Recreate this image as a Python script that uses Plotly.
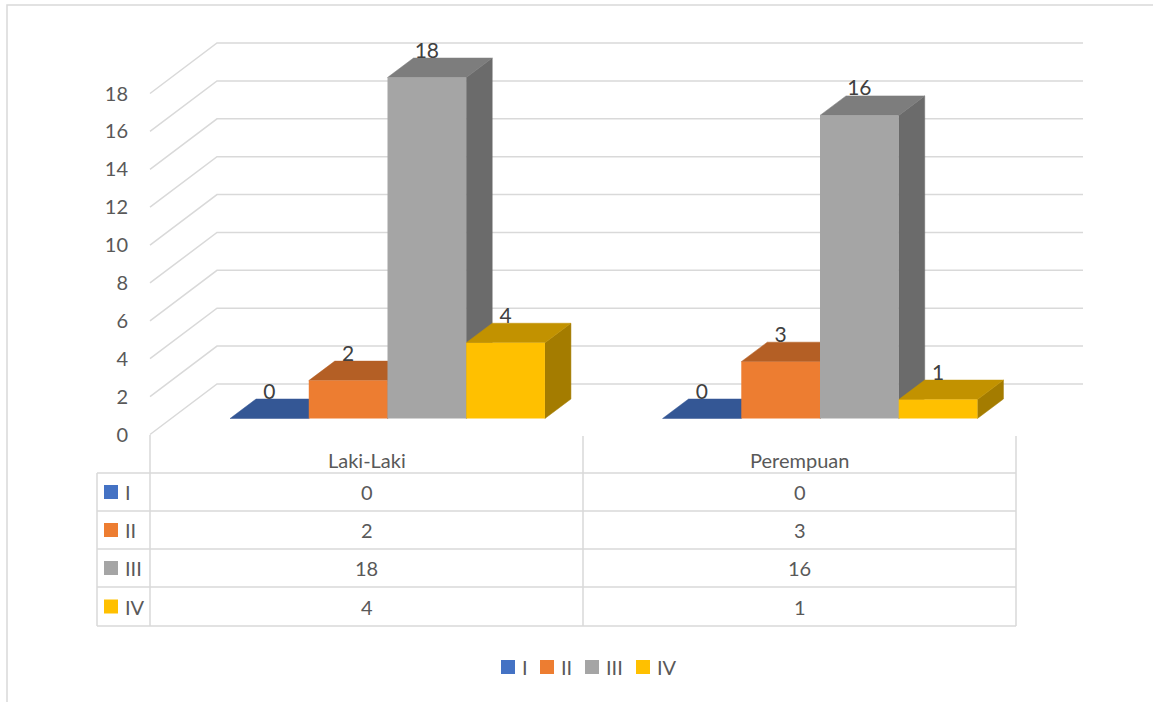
import plotly.graph_objects as go

# ---------------- data ----------------
categories = ["Laki-Laki", "Perempuan"]
series_names = ["I", "II", "III", "IV"]
values_I = [0, 0]
values_II = [2, 3]
values_III = [18, 16]
values_IV = [4, 1]
y_ticks = [0, 2, 4, 6, 8, 10, 12, 14, 16, 18]

series_values = [values_I, values_II, values_III, values_IV]
front_colors = ["#4472C4", "#ED7D31", "#A5A5A5", "#FFC000"]
top_colors = ["#345795", "#B45F25", "#7D7D7D", "#C29200"]
side_colors = ["#2C4A7E", "#995120", "#6B6B6B", "#A47C00"]

# ---------------- geometry (style) ----------------
W, H = 1153, 702
PXU = 18.944          # pixels per value unit
Y0 = 418.5            # pixel row of value 0 on the bars' plane
X0, XS = 387.5, 432.5 # pixel of category 0, pixels per category
FY0 = 434.5           # pixel row of value 0 on the front (axis) plane
BY0 = 384.0           # pixel row of value 0 on the back wall
FX, BX, RX = 150, 217, 1083
BARGAP = 0.272
BW = (1 - BARGAP) / len(series_names)
DX = 26 / XS
DY = 19.5 / PXU

def dx(p):
    return (p - X0) / XS

FRONT_OFF = (Y0 - FY0) / PXU
BACK_OFF = (Y0 - BY0) / PXU

def px(x):
    return x / W

def py(y):
    return 1 - y / H

FONT = "Lato"
TXT = "#595959"
GRID = "#D9D9D9"

fig = go.Figure()

shapes = []
# back wall + side wall grid lines
for v in y_ticks:
    shapes.append(dict(
        type="path", xref="x", yref="y", layer="below",
        path=f"M {dx(FX)},{v + FRONT_OFF} L {dx(BX)},{v + BACK_OFF} L {dx(RX)},{v + BACK_OFF}",
        line=dict(color=GRID, width=1.5)))

# 3D tops and sides of the bars
xcats = list(range(len(categories)))
for i in xcats:
    for k, vals in enumerate(series_values):
        v = vals[i]
        xl = i + (k - len(series_names) / 2) * BW
        xr = xl + BW
        if v > 0:
            shapes.append(dict(
                type="path", xref="x", yref="y", layer="below",
                path=f"M {xr},0 L {xr},{v} L {xr + DX},{v + DY} L {xr + DX},{DY} Z",
                fillcolor=side_colors[k], line=dict(color=side_colors[k], width=0.5)))
        shapes.append(dict(
            type="path", xref="x", yref="y", layer="below",
            path=f"M {xl},{v} L {xr},{v} L {xr + DX},{v + DY} L {xl + DX},{v + DY} Z",
            fillcolor=top_colors[k], line=dict(color=top_colors[k], width=0.5)))

# front faces
for k, (name, vals) in enumerate(zip(series_names, series_values)):
    fig.add_trace(go.Bar(
        x=xcats, y=vals, name=name,
        marker=dict(color=front_colors[k], line=dict(width=0)),
        showlegend=False, hoverinfo="name+y"))

# data labels
for k, vals in enumerate(series_values):
    fig.add_trace(go.Scatter(
        x=[i + (k - (len(series_names) - 1) / 2) * BW for i in xcats],
        y=[v + DY + 0.3 for v in vals],
        text=[str(v) for v in vals], mode="text",
        textposition="middle center",
        textfont=dict(family=FONT, size=21, color="#404040"),
        showlegend=False, hoverinfo="skip", cliponaxis=False))

# empty trace so that the front-plane value axis (yaxis2) is drawn
fig.add_trace(go.Scatter(x=[], y=[], yaxis="y2", showlegend=False, hoverinfo="skip"))

# ---------------- data table ----------------
col_left = [150, 583]
col_w = 433
row_tops = [473, 511, 549, 587, 626]
tl = dict(color=GRID, width=1.5)
for yy in row_tops:
    shapes.append(dict(type="line", xref="paper", yref="paper",
                       x0=px(97), x1=px(1016), y0=py(yy), y1=py(yy), line=tl))
shapes.append(dict(type="line", xref="paper", yref="paper",
                   x0=px(97), x1=px(97), y0=py(473), y1=py(626), line=tl))
shapes.append(dict(type="line", xref="paper", yref="paper",
                   x0=px(150), x1=px(150), y0=py(435), y1=py(626), line=tl))
for xx in [583, 1016]:
    shapes.append(dict(type="line", xref="paper", yref="paper",
                       x0=px(xx), x1=px(xx), y0=py(436), y1=py(626), line=tl))

annotations = []
for c, cat in enumerate(categories):
    annotations.append(dict(text=cat, x=px(col_left[c] + col_w / 2), y=py(460),
                            xref="paper", yref="paper", showarrow=False,
                            xanchor="center", yanchor="middle",
                            font=dict(family=FONT, size=20, color=TXT)))
for k, (name, vals) in enumerate(zip(series_names, series_values)):
    yc = (row_tops[k] + row_tops[k + 1]) / 2
    shapes.append(dict(type="rect", xref="paper", yref="paper",
                       x0=px(104), x1=px(118), y0=py(yc - 7), y1=py(yc + 7),
                       fillcolor=front_colors[k], line=dict(width=0)))
    annotations.append(dict(text=name, x=px(123), y=py(yc), xref="paper", yref="paper",
                            showarrow=False, xanchor="left", yanchor="middle",
                            font=dict(family=FONT, size=20, color=TXT)))
    for c in range(len(categories)):
        annotations.append(dict(text=str(vals[c]), x=px(col_left[c] + col_w / 2), y=py(yc),
                                xref="paper", yref="paper", showarrow=False,
                                xanchor="center", yanchor="middle",
                                font=dict(family=FONT, size=20, color=TXT)))

# ---------------- legend (bottom) ----------------
leg_x = [501, 540, 585, 636]
leg_y = 667
for k, name in enumerate(series_names):
    shapes.append(dict(type="rect", xref="paper", yref="paper",
                       x0=px(leg_x[k]), x1=px(leg_x[k] + 14), y0=py(leg_y - 7), y1=py(leg_y + 7),
                       fillcolor=front_colors[k], line=dict(width=0)))
    annotations.append(dict(text=name, x=px(leg_x[k] + 19), y=py(leg_y), xref="paper", yref="paper",
                            showarrow=False, xanchor="left", yanchor="middle",
                            font=dict(family=FONT, size=20, color=TXT)))

# chart border
shapes.append(dict(type="rect", xref="paper", yref="paper",
                   x0=px(7), x1=px(1170), y0=py(5), y1=py(720),
                   line=dict(color=GRID, width=1.5)))

fig.update_layout(
    width=W, height=H,
    margin=dict(l=0, r=0, t=0, b=0),
    paper_bgcolor="white", plot_bgcolor="white",
    barmode="group", bargap=BARGAP, bargroupgap=0,
    showlegend=False,
    shapes=shapes, annotations=annotations,
    xaxis=dict(range=[-X0 / XS, (W - X0) / XS], visible=False, fixedrange=True),
    yaxis=dict(range=[(Y0 - H) / PXU, Y0 / PXU], visible=False, fixedrange=True),
    yaxis2=dict(range=[(FY0 - H) / PXU, FY0 / PXU], overlaying="y", anchor="free",
                position=128 / W, side="left", tickvals=y_ticks, ticks="",
                showgrid=False, zeroline=False, showline=False, fixedrange=True,
                tickfont=dict(family=FONT, size=20, color=TXT)),
    font=dict(family=FONT, color=TXT),
)

fig.write_html("out.html",
               config={"displayModeBar": False},
               post_script="document.body.style.margin='0';document.body.style.overflow='hidden';")
